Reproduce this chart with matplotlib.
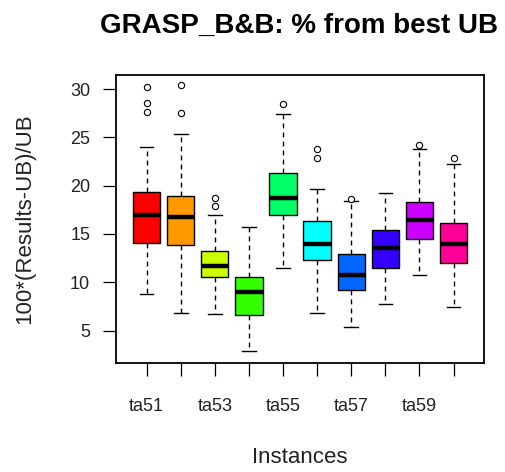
import matplotlib
matplotlib.use("Agg")
import matplotlib.pyplot as plt

# values (percent gap to best UB)
instances = ["ta51", "ta52", "ta53", "ta54", "ta55", "ta56", "ta57", "ta58", "ta59", "ta60"]
q1 = [14.1, 13.9, 10.5, 6.65, 17.0, 12.3, 9.25, 11.5, 14.45, 12.0]
medians = [17.0, 16.8, 11.7, 9.0, 18.7, 14.0, 10.8, 13.55, 16.45, 14.0]
q3 = [19.3, 18.9, 13.2, 10.5, 21.3, 16.3, 12.9, 15.4, 18.3, 16.15]
whisk_lo = [8.8, 6.8, 6.7, 2.85, 11.5, 6.8, 5.4, 7.8, 10.8, 7.4]
whisk_hi = [24.0, 25.3, 17.0, 15.7, 27.4, 19.7, 18.4, 19.2, 23.8, 22.2]
outliers = [
    [30.2, 28.6, 27.6],
    [30.4, 27.5],
    [18.7, 17.9],
    [],
    [28.5],
    [23.8, 22.9],
    [18.6],
    [],
    [24.2],
    [22.85],
]
# R rainbow(10)
colors = ["#FF0000", "#FF9900", "#CCFF00", "#33FF00", "#00FF66",
          "#00FFFF", "#0066FF", "#3300FF", "#CC00FF", "#FF0099"]
shown_labels = ["ta51", "", "ta53", "", "ta55", "", "ta57", "", "ta59", ""]

plt.rcParams["font.family"] = ["Liberation Sans", "DejaVu Sans"]

stats = []
for i, name in enumerate(instances):
    stats.append({
        "label": name, "q1": q1[i], "med": medians[i], "q3": q3[i],
        "whislo": whisk_lo[i], "whishi": whisk_hi[i], "fliers": outliers[i],
    })

fig = plt.figure(figsize=(5.06, 4.72), dpi=100)
ax = fig.add_axes([0.229, 0.231, 0.728, 0.610])

bp = ax.bxp(stats, positions=range(1, 11), widths=0.8, patch_artist=True,
            boxprops=dict(edgecolor="black", linewidth=1.0),
            medianprops=dict(color="black", linewidth=3.2),
            whiskerprops=dict(color="black", linewidth=1.0, linestyle=(0, (3.5, 3))),
            capprops=dict(color="black", linewidth=1.0),
            capwidths=0.4,
            flierprops=dict(marker="o", markerfacecolor="white", markeredgecolor="black",
                            markersize=4.5, markeredgewidth=0.8))
for patch, c in zip(bp["boxes"], colors):
    patch.set_facecolor(c)

ax.set_xlim(0.1, 10.9)
ax.set_ylim(1.65, 31.45)
ax.set_yticks([5, 10, 15, 20, 25, 30])
ax.set_xticks(range(1, 11))
ax.set_xticklabels(shown_labels)
ax.tick_params(axis="both", direction="out", length=9.5, width=0.9, labelsize=13,
               labelcolor="#222222")
ax.tick_params(axis="x", pad=16)
ax.tick_params(axis="y", pad=9)
for s in ax.spines.values():
    s.set_linewidth(1.3)

ax.set_xlabel("Instances", fontsize=16, labelpad=23, color="#222222")
ax.set_ylabel("100*(Results-UB)/UB", fontsize=16, labelpad=25, color="#222222")
fig.text(0.59, 0.945, "GRASP_B&B: % from best UB", fontsize=20, fontweight="bold",
         ha="center", va="center")

fig.savefig("out.png", dpi=100)
